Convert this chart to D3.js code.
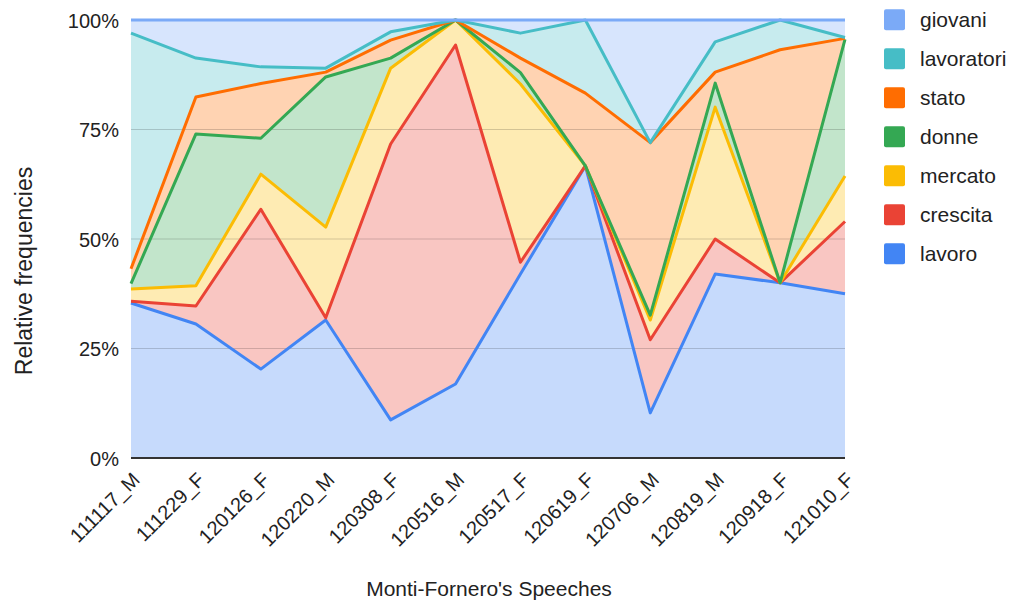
<!DOCTYPE html>
<html>
<head>
<meta charset="utf-8">
<script src="https://cdn.jsdelivr.net/npm/d3@7"></script>
<style>
  html, body { margin: 0; padding: 0; background: #fff; }
  svg text { font-family: "Liberation Sans", Arial, sans-serif; fill: #222; }
</style>
</head>
<body>
<svg id="chart" width="1009" height="601"></svg>
<script>
// Speech identifiers (date + speaker)
const speeches = ["111117_M", "111229_F", "120126_F", "120220_M", "120308_F", "120516_M",
                  "120517_F", "120619_F", "120706_M", "120819_M", "120918_F", "121010_F"];

// Relative frequency of each keyword per speech (percent)
const lavoro     = [35.4, 30.6, 20.3, 31.5,  8.7, 16.9, 42.0, 66.7, 10.3, 42.0, 40.0, 37.5];
const crescita   = [ 0.4,  4.1, 36.5,  0.5, 63.0, 77.4,  2.7,  0.0, 16.7,  8.0,  0.0, 16.5];
const mercato    = [ 2.8,  4.6,  8.0, 20.7, 17.3,  5.7, 40.7,  0.0,  4.5, 30.1,  0.0, 10.4];
const donne      = [ 1.2, 34.7,  8.2, 34.3,  2.3,  0.0,  2.6,  0.0,  1.1,  5.5,  0.0, 31.2];
const stato      = [ 3.4,  8.4, 12.5,  1.1,  4.1,  0.0,  3.3, 16.6, 39.4,  2.5, 53.2,  0.2];
const lavoratori = [53.8,  8.9,  3.8,  0.9,  1.9,  0.0,  5.7, 16.7,  0.0,  6.9,  6.8,  0.2];
const giovani    = [ 3.0,  8.7, 10.7, 11.0,  2.7,  0.0,  3.0,  0.0, 28.0,  5.0,  0.0,  4.0];

// Stack order, bottom to top
const seriesNames = ["lavoro", "crescita", "mercato", "donne", "stato", "lavoratori", "giovani"];
const seriesValues = { lavoro, crescita, mercato, donne, stato, lavoratori, giovani };
const seriesColors = ["#4285F4", "#EA4335", "#FBBC04", "#34A853", "#FF6D01", "#46BDC6", "#7BAAF7"];

const yTicks = [0, 0.25, 0.5, 0.75, 1];

const table = speeches.map((s, i) => {
  const row = { speech: s };
  seriesNames.forEach(k => { row[k] = seriesValues[k][i]; });
  return row;
});

const svg = d3.select("#chart");
const plot = { left: 131, right: 845, top: 20, bottom: 458 };

const x = d3.scalePoint().domain(speeches).range([plot.left, plot.right]);
const y = d3.scaleLinear().domain([0, 1]).range([plot.bottom, plot.top]);
const color = d3.scaleOrdinal().domain(seriesNames).range(seriesColors);

const stacked = d3.stack().keys(seriesNames).offset(d3.stackOffsetExpand)(table);

const area = d3.area()
  .x(d => x(d.data.speech))
  .y0(d => y(d[0]))
  .y1(d => y(d[1]));

const topLine = d3.line()
  .x(d => x(d.data.speech))
  .y(d => y(d[1]));

// Filled bands
svg.append("g")
  .selectAll("path")
  .data(stacked)
  .join("path")
  .attr("d", area)
  .attr("fill", d => color(d.key))
  .attr("fill-opacity", 0.3);

// Gridlines, showing through the bands
svg.append("g")
  .selectAll("line")
  .data(yTicks.filter(t => t > 0 && t < 1))
  .join("line")
  .attr("x1", plot.left).attr("x2", plot.right)
  .attr("y1", d => y(d)).attr("y2", d => y(d))
  .attr("stroke", "#000").attr("stroke-opacity", 0.17).attr("stroke-width", 1);

// Baseline
svg.append("line")
  .attr("x1", plot.left).attr("x2", plot.right)
  .attr("y1", y(0)).attr("y2", y(0))
  .attr("stroke", "#333").attr("stroke-width", 2);

// Cumulative outline of each band
svg.append("g")
  .selectAll("path")
  .data(stacked)
  .join("path")
  .attr("d", topLine)
  .attr("fill", "none")
  .attr("stroke", d => color(d.key))
  .attr("stroke-width", 3)
  .attr("stroke-linejoin", "round");

// Y axis labels
const yAxis = d3.axisLeft(y).tickValues(yTicks).tickFormat(d3.format(".0%")).tickSize(0).tickPadding(0);
const gy = svg.append("g").attr("transform", `translate(119,0)`).call(yAxis);
gy.select(".domain").remove();
gy.selectAll("text")
  .attr("font-size", 20)
  .attr("dy", 7)
  .style("font-family", "'Liberation Sans', Arial, sans-serif")
  .attr("fill", "#222");

// X axis labels, rotated
const xAxis = d3.axisBottom(x).tickSize(0).tickPadding(0);
const gx = svg.append("g").call(xAxis);
gx.select(".domain").remove();
gx.selectAll(".tick").attr("transform", d => `translate(${x(d) + 10},481)`);
gx.selectAll("text")
  .attr("font-size", 20)
  .attr("y", 0).attr("dy", 0)
  .attr("text-anchor", "end")
  .attr("transform", "rotate(-45)")
  .style("font-family", "'Liberation Sans', Arial, sans-serif")
  .attr("fill", "#222");

// Axis titles
svg.append("text")
  .attr("x", 489).attr("y", 596)
  .attr("text-anchor", "middle")
  .attr("font-size", 21)
  .text("Monti-Fornero's Speeches");

svg.append("text")
  .attr("transform", "translate(32,271) rotate(-90)")
  .attr("text-anchor", "middle")
  .attr("font-size", 23)
  .text("Relative frequencies");

// Legend, top series first
const legendItems = seriesNames.slice().reverse();
const legend = svg.append("g")
  .selectAll("g")
  .data(legendItems)
  .join("g")
  .attr("transform", (d, i) => `translate(884,${19.7 + i * 39})`);

legend.append("rect")
  .attr("x", 0).attr("y", -10.5)
  .attr("width", 21).attr("height", 21)
  .attr("rx", 2)
  .attr("fill", d => color(d));

legend.append("text")
  .attr("x", 36).attr("y", 7)
  .attr("font-size", 21)
  .text(d => d);
</script>
</body>
</html>
